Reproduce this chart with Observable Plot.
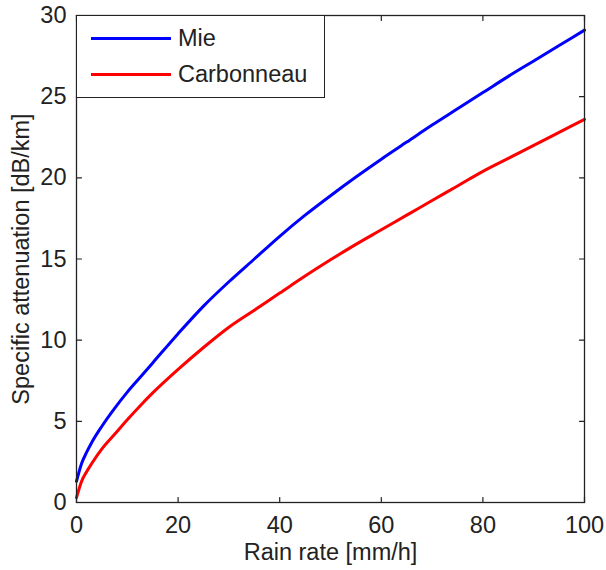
<!DOCTYPE html>
<html>
<head>
<meta charset="utf-8">
<script src="https://cdn.jsdelivr.net/npm/d3@7"></script>
<script src="https://cdn.jsdelivr.net/npm/@observablehq/plot@0.6"></script>
<style>
  html, body { margin: 0; padding: 0; background: #fff; }
  #wrap { position: relative; width: 606px; height: 570px; font-family: "Liberation Sans", Arial, sans-serif; color: #222; }
  #legend { position: absolute; left: 76px; top: 15px; width: 249px; height: 83px; box-sizing: border-box;
            border: 1.3px solid #222; background: #fff; }
  .item { position: absolute; left: 14px; height: 26px; display: flex; align-items: center; font-size: 23.5px; }
  .swatch { width: 80px; height: 0; border-top: 3px solid; margin-right: 7px; }
</style>
</head>
<body>
<div id="wrap"></div>
<script>
// ---- data ----
const rainRate   = [0, 1, 2, 3, 5, 7.5, 10, 12.5, 15, 20, 25, 30, 35, 40, 45, 50, 55, 60, 65, 70, 75, 80, 85, 90, 95, 100];
const mie        = [1.3, 2.4, 3.1, 3.7, 4.7, 5.8, 6.8, 7.7, 8.6, 10.4, 12.1, 13.6, 15.0, 16.4, 17.7, 18.9, 20.05, 21.15, 22.2, 23.25, 24.25, 25.25, 26.25, 27.2, 28.15, 29.1];
const carbonneau = [0.3, 1.3, 1.9, 2.4, 3.3, 4.2, 5.1, 5.95, 6.75, 8.2, 9.55, 10.8, 11.85, 12.9, 13.95, 14.95, 15.9, 16.8, 17.7, 18.6, 19.5, 20.4, 21.2, 22.0, 22.8, 23.6];
const seriesNames  = ["Mie", "Carbonneau"];
const seriesColors = ["#0000ff", "#ff0000"];
const xTicks = [0, 20, 40, 60, 80, 100];
const yTicks = [0, 5, 10, 15, 20, 25, 30];
const xLabel = "Rain rate [mm/h]";
const yLabel = "Specific attenuation [dB/km]";

const seriesValues = [mie, carbonneau];
const rows = seriesNames.flatMap((name, i) =>
  rainRate.map((r, j) => ({series: name, x: r, y: seriesValues[i][j]})));

const tickShape = {draw(context, l) { context.moveTo(0, 0); context.lineTo(0, -l); }};
const tickColor = "#222";
const inTick = (opts) => Plot.vector(opts.data, {
  x: opts.x, y: opts.y, rotate: opts.rotate, length: 5, anchor: "start",
  shape: tickShape, stroke: tickColor, strokeWidth: 1.2
});

const chart = Plot.plot({
  width: 606,
  height: 570,
  marginLeft: 76,
  marginRight: 22,
  marginTop: 15,
  marginBottom: 68,
  style: {fontFamily: "'Liberation Sans', Arial, sans-serif", fontSize: "23.5px", color: "#222", background: "#fff"},
  x: {domain: [0, 100]},
  y: {domain: [0, 30]},
  color: {domain: seriesNames, range: seriesColors},
  marks: [
    Plot.line(rows, {x: "x", y: "y", z: "series", stroke: "series", strokeWidth: 3, curve: "monotone-x"}),
    inTick({data: xTicks, x: d => d, y: 0, rotate: 0}),
    inTick({data: xTicks, x: d => d, y: 30, rotate: 180}),
    inTick({data: yTicks, x: 0, y: d => d, rotate: 90}),
    inTick({data: yTicks, x: 100, y: d => d, rotate: 270}),
    Plot.frame({stroke: "#222", strokeWidth: 1.3}),
    Plot.axisX({ticks: xTicks, tickSize: 0, tickPadding: 14, label: xLabel, labelAnchor: "center", labelOffset: 57, labelArrow: false}),
    Plot.axisY({ticks: yTicks, tickSize: 0, tickPadding: 10, label: yLabel, labelAnchor: "center", labelOffset: 64, labelArrow: false})
  ]
});

const wrap = document.getElementById("wrap");
wrap.appendChild(chart);

const legend = document.createElement("div");
legend.id = "legend";
seriesNames.forEach((name, i) => {
  const item = document.createElement("div");
  item.className = "item";
  item.style.top = (9 + i * 36) + "px";
  const sw = document.createElement("span");
  sw.className = "swatch";
  sw.style.borderTopColor = seriesColors[i];
  const label = document.createElement("span");
  label.textContent = name;
  item.appendChild(sw);
  item.appendChild(label);
  legend.appendChild(item);
});
wrap.appendChild(legend);
</script>
</body>
</html>
